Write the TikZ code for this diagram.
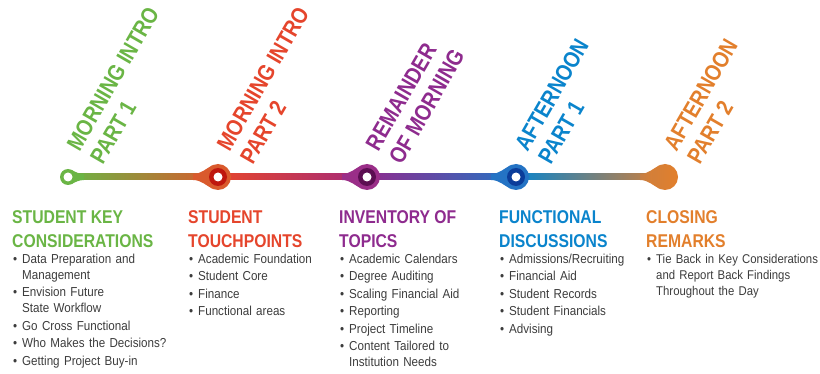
\documentclass[tikz,border=0pt]{standalone}
\usepackage{fontspec}
\usetikzlibrary{calc}
\newfontfamily\headfont[FakeStretch=0.85]{Liberation Sans}
\newfontfamily\bodyfont[FakeStretch=0.895]{Liberation Sans}
\definecolor{introOne}{HTML}{6AB545}
\definecolor{introTwo}{HTML}{E5452C}
\definecolor{introTwoDark}{HTML}{BF170E}
\definecolor{introTwoRing}{HTML}{D95A2D}
\definecolor{remainder}{HTML}{8E2B8E}
\definecolor{remainderDark}{HTML}{5C0E52}
\definecolor{remainderRing}{HTML}{9A2E88}
\definecolor{noonOne}{HTML}{0A84CC}
\definecolor{noonOneDark}{HTML}{0B3D9A}
\definecolor{noonOneRing}{HTML}{2473C4}
\definecolor{noonTwo}{HTML}{E27F2C}
\definecolor{bodygray}{HTML}{3C3C3C}
\def\stoprad{13pt}
\def\stopinner{9pt}
\def\stophole{4.5pt}

% bullet item with hanging indent
\newcommand{\bul}[1]{\par\hangindent=10pt\hangafter=1\noindent\makebox[10pt][l]{\hspace{1pt}\textbullet}#1}
\newcommand{\colhead}[2]{{\noindent\headfont\bfseries\fontsize{18.5}{24}\selectfont\color{#1}#2\par}\vspace{-1.5pt}}

% teardrop flare in front of a stop
\newcommand{\stopflare}[2]{%
    \fill[#2] ($(#1)+(-25,-3)$) .. controls +(8,0) and +(-5.5,2.8) .. ($(#1)+(-6,-11.5)$)
        -- ($(#1)+(-6,11.5)$) .. controls +(-5.5,-2.8) and +(8,0) .. ($(#1)+(-25,3)$) -- cycle;
}

\begin{document}
\begin{tikzpicture}[
            x=1pt, y=-1pt,
            daylabel/.style={%
                rotate=60, anchor=south west, inner sep=0pt, align=left,%
                font=\headfont\bfseries\fontsize{23}{27}\selectfont%
            },
            colbox/.style={%
                anchor=north west, inner sep=0pt, text width=172pt, align=left,%
                font=\bodyfont\fontsize{13}{16}\selectfont, text=bodygray,%
                execute at begin node=\setlength{\parskip}{1.5pt}%
            }
        ]
        \useasboundingbox (0,0) rectangle (820,374);

        % Define stops
        \coordinate (stop_1) at (68,177);
        \coordinate (stop_2) at (218,177);
        \coordinate (stop_3) at (367,177);
        \coordinate (stop_4) at (516,177);
        \coordinate (stop_5) at (665,177);

        % Timeline
        \shade [left color=introOne, right color=introTwoRing]
            ($(stop_1)+(0,-3)$) rectangle ($(stop_2)+(0,3)$);
        \shade [left color=introTwo, right color=remainderRing!90!red]
            ($(stop_2)+(0,-3)$) rectangle ($(stop_3)+(0,3)$);
        \shade [left color=remainder, right color=noonOneRing]
            ($(stop_3)+(0,-3)$) rectangle ($(stop_4)+(0,3)$);
        \shade [left color=noonOne, right color=noonTwo!85!gray]
            ($(stop_4)+(0,-3)$) rectangle ($(stop_5)+(0,3)$);

        % Start
        \fill [introOne] ($(stop_1)+(16,-3)$) .. controls +(-5,0) and +(3,1.7) .. ($(stop_1)+(4,-6.9)$)
            -- ($(stop_1)+(4,6.9)$) .. controls +(3,-1.7) and +(-5,0) .. ($(stop_1)+(16,3)$) -- cycle;
        \fill [introOne] (stop_1) circle (8pt);
        \fill [white] (stop_1) circle (\stophole);

        % Middle stops
        \stopflare{stop_2}{introTwoRing}
        \fill [introTwoRing] (stop_2) circle (\stoprad);
        \fill [introTwoDark] (stop_2) circle (\stopinner);
        \fill [white] (stop_2) circle (\stophole);

        \stopflare{stop_3}{remainderRing}
        \fill [remainderRing] (stop_3) circle (\stoprad);
        \fill [remainderDark] (stop_3) circle (\stopinner);
        \fill [white] (stop_3) circle (\stophole);

        \stopflare{stop_4}{noonOneRing}
        \fill [noonOneRing] (stop_4) circle (\stoprad);
        \fill [noonOneDark] (stop_4) circle (\stopinner);
        \fill [white] (stop_4) circle (\stophole);

        % End
        \shade [left color=noonTwo!70!gray, right color=noonTwo]
            ($(stop_5)+(-25,-3)$) .. controls +(8,0) and +(-5.5,2.8) .. ($(stop_5)+(-6,-11.5)$)
            -- ($(stop_5)+(-6,11.5)$) .. controls +(-5.5,-2.8) and +(8,0) .. ($(stop_5)+(-25,3)$) -- cycle;
        \shade [left color=noonTwo!85!gray, right color=noonTwo] (stop_5) circle (\stoprad);

        % Labels
        \node (intro_1) [daylabel, text=introOne] at ($(stop_1)+(35,-11)$) {MORNING INTRO\\PART 1};
        \node (intro_2) [daylabel, text=introTwo] at ($(stop_2)+(35,-11)$) {MORNING INTRO\\PART 2};
        \node (remainder) [daylabel, text=remainder] at ($(stop_3)+(35,-11)$) {REMAINDER\\OF MORNING};
        \node (noon_1) [daylabel, text=noonOne] at ($(stop_4)+(35,-11)$) {AFTERNOON\\PART 1};
        \node (noon_2) [daylabel, text=noonTwo] at ($(stop_5)+(35,-11)$) {AFTERNOON\\PART 2};

        % Columns
        \node (keyConsid) [colbox] at (12,210) {%
            \colhead{introOne}{STUDENT KEY\newline CONSIDERATIONS}
            \bul{Data Preparation and\newline Management}
            \bul{Envision Future\newline State Workflow}
            \bul{Go Cross Functional}
            \bul{Who Makes the Decisions?}
            \bul{Getting Project Buy-in}\par
        };
        \node (touchpoints) [colbox] at (188,210) {%
            \colhead{introTwo}{STUDENT\newline TOUCHPOINTS}
            \bul{Academic Foundation}
            \bul{Student Core}
            \bul{Finance}
            \bul{Functional areas}\par
        };
        \node (inventory) [colbox] at (339,210) {%
            \colhead{remainder}{INVENTORY OF\newline TOPICS}
            \bul{Academic Calendars}
            \bul{Degree Auditing}
            \bul{Scaling Financial Aid}
            \bul{Reporting}
            \bul{Project Timeline}
            \bul{Content Tailored to\newline Institution Needs}\par
        };
        \node (functional) [colbox] at (499,210) {%
            \colhead{noonOne}{FUNCTIONAL\newline DISCUSSIONS}
            \bul{Admissions/Recruiting}
            \bul{Financial Aid}
            \bul{Student Records}
            \bul{Student Financials}
            \bul{Advising}\par
        };
        \node (closing) [colbox, text width=190pt, font=\bodyfont\fontsize{12.7}{16}\selectfont] at (646,210) {%
            \colhead{noonTwo}{CLOSING\newline REMARKS}
            \bul{Tie Back in Key Considerations\newline and Report Back Findings\newline Throughout the Day}\par
        };

        \end{tikzpicture}
\end{document}
